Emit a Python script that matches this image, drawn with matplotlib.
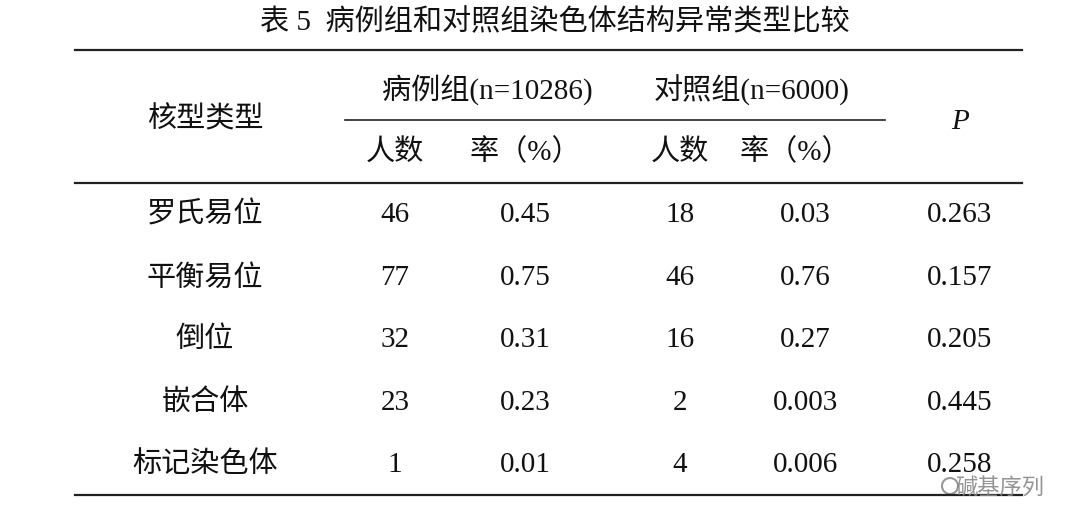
import matplotlib.pyplot as plt
from matplotlib.lines import Line2D

title = "表 5  病例组和对照组染色体结构异常类型比较"
types = ["罗氏易位", "平衡易位", "倒位", "嵌合体", "标记染色体"]
case_n = ["46", "77", "32", "23", "1"]
case_rate = ["0.45", "0.75", "0.31", "0.23", "0.01"]
ctrl_n = ["18", "46", "16", "2", "4"]
ctrl_rate = ["0.03", "0.76", "0.27", "0.003", "0.006"]
p_vals = ["0.263", "0.157", "0.205", "0.445", "0.258"]

W, H = 1080, 530
fig = plt.figure(figsize=(10.8, 5.3), dpi=100)
ax = fig.add_axes([0, 0, 1, 1])
ax.set_xlim(0, W); ax.set_ylim(H, 0); ax.axis('off')
fam = ['Liberation Serif', 'Noto Sans CJK SC', 'DejaVu Sans']
fs = 21

def t(x, y, s, **kw):
    kw.setdefault('fontsize', fs)
    ax.text(x, y, s, ha='center', va='center', family=fam, color='#111', **kw)

def hl(y, x0, x1, lw=1.6):
    ax.add_line(Line2D([x0, x1], [y, y], color='#222', lw=lw))

t(555, 22, title)
hl(50, 75, 1022)
hl(120, 345, 885, 1.2)
hl(183, 75, 1022)
hl(495, 75, 1022)

t(205, 120, "核型类型")
t(487, 90, "病例组(n=10286)")
t(752, 90, "对照组(n=6000)")
t(960, 122, "P", style='italic')
for x, s in [(395, "人数"), (525, "率（%）"), (680, "人数"), (795, "率（%）")]:
    t(x, 152, s)

cols = [205, 395, 525, 680, 805, 960]
ys = [215, 278, 340, 403, 465]
for i, y in enumerate(ys):
    for x, s in zip(cols, [types[i], case_n[i], case_rate[i], ctrl_n[i], ctrl_rate[i], p_vals[i]]):
        t(x, y, s)

ax.text(1000, 488, "碱基序列", ha='center', va='center', family=fam, fontsize=16, color='#888', alpha=0.9)
ax.add_patch(plt.Circle((950, 486), 8, fill=False, color='#999', lw=1.5))

fig.savefig("out.png", dpi=100, facecolor='white')
